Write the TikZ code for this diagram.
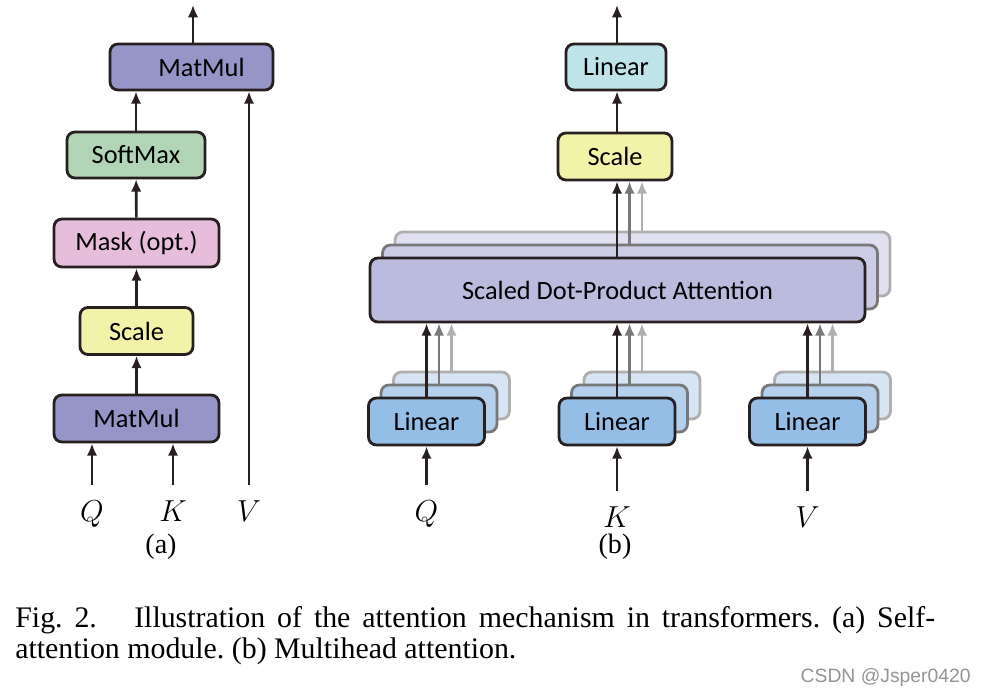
\documentclass[tikz,border=0pt]{standalone}
\usepackage{fontspec}
\setmainfont{Liberation Serif}
\newfontfamily\boxfont{Carlito}
\newfontfamily\wmfont{Liberation Sans}
\usetikzlibrary{arrows.meta,calc,positioning}
\definecolor{mmcol}{RGB}{149,149,200}
\definecolor{smcol}{RGB}{178,213,184}
\definecolor{mkcol}{RGB}{230,190,220}
\definecolor{sccol}{RGB}{242,242,168}
\definecolor{lncol}{RGB}{190,228,234}
\definecolor{lbcol}{RGB}{148,190,230}
\definecolor{lb2}{RGB}{180,208,236}
\definecolor{lb3}{RGB}{214,228,243}
\definecolor{atcol}{RGB}{187,187,222}
\definecolor{at2}{RGB}{204,204,230}
\definecolor{at3}{RGB}{224,224,240}
\definecolor{gr2}{RGB}{120,120,120}
\definecolor{gr3}{RGB}{175,175,175}
\definecolor{edge}{RGB}{40,32,32}
\begin{document}
\frenchspacing
\begin{tikzpicture}[x=0.02cm,y=-0.02cm,
    blk/.style={draw=edge, line width=1.6pt, rounded corners=4.5pt, inner sep=0pt,
        font=\boxfont\fontsize{15}{16}\selectfont},
    lin/.style={minimum width=2.32cm, minimum height=0.94cm},
    arr/.style={-{Latex[length=7pt,width=6pt]}, line width=1.5pt, draw=edge},
    lbl/.style={inner sep=0pt, font=\fontsize{17}{20}\selectfont}]
    \useasboundingbox (0,0) rectangle (986,695);

    % (a)
    \node[blk, fill=mmcol, minimum width=3.26cm, minimum height=0.92cm] (mm2) at (191.5,67) {\hspace{0.4cm}MatMul};
    \node[blk, fill=smcol, minimum width=2.76cm, minimum height=0.92cm] (sm) at (136,155) {SoftMax};
    \node[blk, fill=mkcol, minimum width=3.3cm, minimum height=0.96cm] (mk) at (136.5,243) {Mask (opt.)};
    \node[blk, fill=sccol, minimum width=2.26cm, minimum height=0.94cm] (sc1) at (136.5,331) {Scale};
    \node[blk, fill=mmcol, minimum width=3.3cm, minimum height=0.94cm] (mm1) at (136.5,418.5) {MatMul};
    \coordinate (oa) at (193,5);
    \draw[arr] (mm1) -- (sc1);
    \draw[arr] (sc1) -- (mk);
    \draw[arr] (mk) -- (sm);
    \draw[arr] (sm.north) -- (sm.north |- mm2.south);
    \draw[arr] (mm2.north -| oa) -- (oa);
    \node[lbl, anchor=north] (qa) at (92,500) {$Q$};
    \node[lbl, anchor=north] (ka) at (173,500) {$K$};
    \node[lbl, anchor=north] (va) at (249,500) {$V$};
    \draw[arr, shorten <=0.3cm] (qa.north) -- (qa.north |- mm1.south);
    \draw[arr, shorten <=0.3cm] (ka.north) -- (ka.north |- mm1.south);
    \draw[arr, shorten <=0.3cm] (va.north) -- (va.north |- mm2.south);
    \node[font=\fontsize{16}{18}\selectfont] (ta) at (161,547) {(a)};

    % (b)
    \foreach \k/\cl/\dl in {2/at3/gr3,1/at2/gr2}
        \node[blk, draw=\dl, fill=\cl, minimum width=9.9cm, minimum height=1.28cm] (att\k) at (617.5+12.5*\k,290-13*\k) {};
    \node[blk, fill=atcol, minimum width=9.9cm, minimum height=1.28cm] (att) at (617.5,290) {Scaled Dot-Product Attention};
    \node[blk, fill=sccol, minimum width=2.28cm, minimum height=0.94cm] (sc2) at (615,156.5) {Scale};
    \node[blk, fill=lncol, minimum width=2cm, minimum height=0.92cm] (ln) at (616,67) {Linear};
    \coordinate (ob) at (617,5);
    \draw[arr] (sc2.north -| ob) -- (ln.south -| ob);
    \draw[arr] (ln.north -| ob) -- (ob);
    \draw[arr] (att.north -| ob) -- (sc2.south -| ob);
    \draw[arr, draw=gr2] ($(att1.north -| ob)+(12.5,0)$) -- ($(sc2.south -| ob)+(12.5,0)$);
    \draw[arr, draw=gr3] ($(att2.north -| ob)+(25,0)$) -- ($(sc2.south -| ob)+(25,0)$);
    \foreach \i/\x/\t/\y in {q/426.5/Q/500,k/617/K/506,v/807.5/V/506}{
        \foreach \k/\cl/\dl in {2/lb3/gr3,1/lb2/gr2}
            \node[blk, lin, draw=\dl, fill=\cl] (l\i\k) at (\x+12.5*\k,421.5-13*\k) {};
        \node[blk, lin, fill=lbcol] (l\i) at (\x,421.5) {Linear};
        \draw[arr] (l\i) -- (l\i |- att.south);
        \draw[arr, draw=gr2] (l\i1.north) -- (l\i1.north |- att.south);
        \draw[arr, draw=gr3] (l\i2.north) -- (l\i2.north |- att.south);
        \node[lbl, anchor=north] (t\i) at (\x,\y) {$\t$};
        \draw[arr, shorten <=0.3cm] (l\i.south |- t\i.north) -- (l\i.south);
    }
    \node[font=\fontsize{16}{18}\selectfont] (tb) at (615,547) {(b)};

    % caption
    \node[anchor=base west, inner sep=0pt, font=\fontsize{17}{20}\selectfont] (cap1) at (15,627)
        {\makebox[18.4cm][s]{Fig.~2.\hspace{1.25em}Illustration of the attention mechanism in transformers. (a) Self-}};
    \node[anchor=base west, inner sep=0pt, font=\fontsize{17}{20}\selectfont] (cap2) at (15,658)
        {attention module. (b) Multihead attention.};
    \node[anchor=base east, inner sep=0pt, text=black!42, font=\wmfont\fontsize{11}{13}\selectfont] (wm) at (971,682) {CSDN @Jsper0420};
\end{tikzpicture}
\end{document}
